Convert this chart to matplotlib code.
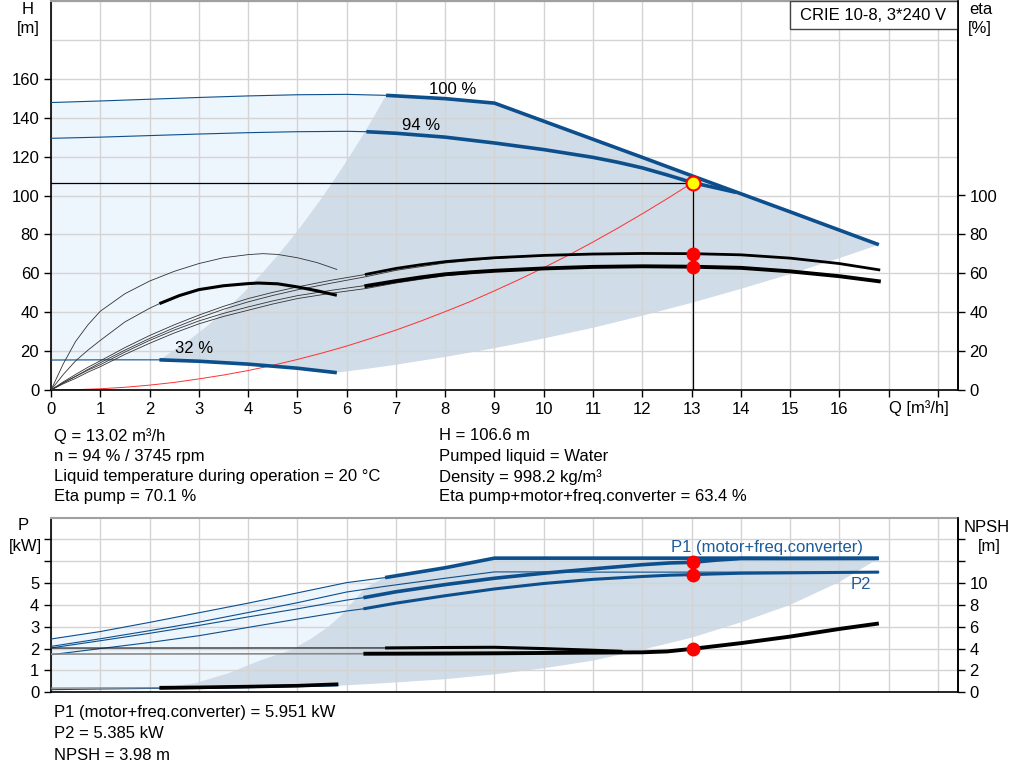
import numpy as np
import matplotlib
matplotlib.use("Agg")
import matplotlib.pyplot as plt
from matplotlib.patches import Rectangle

plt.rcParams['font.family'] = ['Liberation Sans', 'DejaVu Sans']

# ---- head curves (Q in m3/h, H in m) ----
q100 = np.array([0, 1, 2, 3, 4, 5, 6, 6.8, 8, 9, 10, 11, 12, 13, 14, 15, 16, 16.8])
h100 = np.array([147.8, 148.6, 149.5, 150.4, 151.2, 151.8, 152, 151.5, 149.8, 147.5,
                 138.2, 128.9, 119.6, 110.2, 100.9, 91.6, 82.2, 74.7])
q94 = np.array([0, 1, 2, 3, 4, 5, 6, 6.4, 7, 8, 9, 10, 11, 11.5, 12, 12.5, 13.02, 13.5, 13.9])
h94 = np.array([129.4, 130, 130.8, 131.6, 132.3, 132.8, 133, 132.8, 132, 130, 127,
                123.6, 119.6, 117.1, 114.2, 110.6, 106.6, 103.9, 101.6])
q32 = np.array([0, 1, 2.2, 3, 4, 5, 5.8])
h32 = np.array([15.4, 15.5, 15.5, 14.8, 13.3, 11.2, 8.9])

# operating range boundaries
left_q = np.array([2.2, 2.5, 2.8, 3.2, 3.6, 4.0, 4.3, 4.6, 4.8, 5.05, 5.3, 5.5, 5.73,
                   5.9, 6.07, 6.3, 6.54, 6.8])
left_h = np.array([15.5, 20.4, 25.6, 33.5, 42.4, 52.3, 60.5, 69.2, 75.3, 83.4, 91.9,
                   98.9, 107.4, 113.8, 120.5, 129.8, 139.9, 151.5])
low_q = np.array([5.8, 6.5, 7, 8, 9, 10, 11, 12, 13, 14, 15, 16, 16.8])
low_h = np.array([8.9, 11.2, 13, 17, 21.5, 26.5, 32, 38.2, 44.8, 52, 59.6, 67.8, 74.7])

# system curve
sys_q = np.array([0, 0.5, 1, 1.5, 2, 2.5, 3, 3.5, 4, 4.5, 5, 5.5, 6, 6.5, 7, 7.5, 8,
                  8.5, 9, 9.5, 10, 10.5, 11, 11.5, 12, 12.5, 13.02])
sys_h = np.array([0, 0.16, 0.63, 1.4, 2.5, 3.9, 5.7, 7.7, 10, 12.7, 15.7, 19, 22.6,
                  26.6, 30.8, 35.4, 40.3, 45.4, 51, 56.8, 62.9, 69.3, 76.1, 83.2, 90.6,
                  98.3, 106.6])

# ---- efficiency curves (%) ----
qb = np.array([0, 0.25, 0.5, 0.75, 1, 1.5, 2, 2.5, 3, 3.5, 4, 4.5, 5, 5.7, 6.4])
eta_p94_lo = np.array([0, 4.2, 8, 11.7, 15, 21.8, 28, 33.5, 38.5, 43, 47, 50.2, 53, 56.5, 59.5])
eta_p100_lo = np.array([0, 3.7, 7, 10.6, 14, 20.5, 26.5, 32, 37, 41.5, 45.3, 48.6, 51.5, 55, 58.3])
eta_t94_lo = np.array([0, 3.7, 7, 10.2, 13, 19.5, 25.5, 30.8, 35.5, 39.4, 42.7, 45.8, 48.5, 51.3, 53.8])
eta_t100_lo = np.array([0, 3.2, 6, 9.2, 12, 18.3, 24, 29.3, 34, 37.8, 41, 44.2, 47, 49.8, 52.2])
qc = np.array([6.4, 7, 8, 9, 10])
eta_p100_c = np.array([58.3, 61.5, 65.3, 67.6, 69.1])
eta_t100_c = np.array([52.2, 55, 58.8, 60.9, 62.3])
qe = np.array([6.4, 7, 7.5, 8, 8.5, 9, 10, 11, 12, 13, 14, 15, 16, 16.8])
eta_pump = np.array([59.5, 62.5, 64.4, 66, 67.1, 68, 69.2, 69.9, 70.2, 70.1, 69.5, 67.8, 65, 61.8])
eta_total = np.array([53.5, 56, 57.9, 59.5, 60.5, 61.3, 62.5, 63.3, 63.6, 63.4, 62.8, 61,
                      58.5, 55.9])
qe32 = np.array([0, 0.25, 0.5, 0.75, 1, 1.5, 2, 2.5, 3, 3.5, 4, 4.3, 4.6, 5, 5.4, 5.8])
eta_p32 = np.array([0, 13.5, 25, 33.5, 40.5, 49.5, 56, 61, 65, 68, 69.6, 70.1, 69.7, 68,
                    65.5, 62])
qt32 = np.array([0, 0.25, 0.5, 0.75, 1, 1.5, 2, 2.2, 2.6, 3, 3.5, 4, 4.2, 4.6, 5, 5.4, 5.8])
eta_t32 = np.array([0, 8, 15, 20.5, 25.5, 35, 42, 44.4, 48.5, 51.6, 53.6, 54.7, 55, 54.6,
                    53, 51, 48.7])

# ---- power curves (kW) ----
qp = np.array([0, 1, 2, 3, 4, 5, 6, 6.78, 8, 9, 10, 11, 12, 13, 14, 15, 16, 16.8])
p1_100 = np.array([2.44, 2.78, 3.2, 3.64, 4.08, 4.55, 5.02, 5.25, 5.7, 6.14, 6.14, 6.14,
                   6.14, 6.14, 6.14, 6.13, 6.13, 6.13])
p2_100 = np.array([2.1, 2.45, 2.82, 3.21, 3.65, 4.1, 4.59, 4.85, 5.22, 5.51, 5.51, 5.5,
                   5.5, 5.5, 5.5, 5.5, 5.5, 5.5])
q94p = np.array([0, 1, 2, 3, 4, 5, 6, 6.34, 7, 8, 9, 10, 11, 12, 12.56, 13.02, 13.5, 14, 16.8])
p1_94 = np.array([2.03, 2.36, 2.7, 3.06, 3.45, 3.82, 4.22, 4.33, 4.6, 4.93, 5.22, 5.45,
                  5.65, 5.84, 5.92, 5.95, 6.05, 6.12, 6.13])
p2_94 = np.array([1.72, 2.0, 2.28, 2.59, 2.97, 3.35, 3.72, 3.82, 4.08, 4.42, 4.73, 4.98,
                  5.17, 5.3, 5.36, 5.385, 5.42, 5.45, 5.5])
qp32 = np.array([0, 1, 2.2, 3, 4, 5, 5.83])
p1_32 = np.array([0.12, 0.15, 0.18, 0.21, 0.25, 0.3, 0.33])
pl_q = np.array([2.2, 2.92, 3.6, 4.27, 4.88, 5.29, 5.63, 5.9, 6.1, 6.37, 6.6, 6.78])
pl_p = np.array([0.2, 0.41, 0.87, 1.48, 1.94, 2.47, 3.0, 3.54, 4.07, 4.75, 5.05, 5.25])
pb_q = np.array([5.83, 7, 8, 9, 10, 11, 12, 13, 14, 15, 16, 16.8])
pb_p = np.array([0.3, 0.45, 0.6, 0.82, 1.1, 1.45, 1.95, 2.5, 3.2, 4.0, 5.05, 6.13])

# ---- NPSH curves (m) ----
qn100 = np.array([0, 6.78, 8, 9, 10, 11, 11.6])
npsh100 = np.array([4.05, 4.06, 4.1, 4.12, 4.0, 3.85, 3.75])
qn94 = np.array([0, 6.34, 8, 9, 10, 11, 12, 12.5, 13.02, 14, 15, 16, 16.8])
npsh94 = np.array([3.5, 3.53, 3.55, 3.57, 3.6, 3.63, 3.66, 3.74, 3.98, 4.5, 5.1, 5.8, 6.3])
qn32 = np.array([0, 2.2, 3, 4, 5, 5.83])
npsh32 = np.array([0.38, 0.42, 0.45, 0.52, 0.6, 0.74])

# duty point
q_duty = 13.02
h_duty = 106.6
eta_duty = [70.1, 63.4]
p_duty = [5.951, 5.385]
npsh_duty = 3.98

BLUE = '#0c4f8c'
LIGHT = '#edf5fd'
GREY = '#d0dce7'
THIN, THICK = 0.8, 2.6
FS = 12


def ftext(x, y, s, **kw):
    fig.text(x / 1024, 1 - y / 781, s, fontsize=FS, **kw)


def split_plot(a, q, v, qs, color, thin=THIN, thick=THICK, thin_color=None):
    m1 = q <= qs
    m2 = q >= qs
    a.plot(q[m1], v[m1], color=thin_color or color, lw=thin, zorder=3)
    a.plot(q[m2], v[m2], color=color, lw=thick, zorder=3, solid_capstyle='butt')


fig = plt.figure(figsize=(10.24, 7.81), dpi=100)
ax = fig.add_axes([51 / 1024, 1 - 390 / 781, 906.7 / 1024, 389 / 781])
axb = fig.add_axes([51 / 1024, 1 - 692.3 / 781, 906.7 / 1024, 174.8 / 781])

for a in (ax, axb):
    a.set_xlim(0, 18.4)
    a.set_xticks(range(19))
    a.grid(True, which='both', color='#d4d4d4', lw=1.0)
    a.set_axisbelow(True)
    for s in ('left', 'bottom', 'right'):
        a.spines[s].set_color('black')
        a.spines[s].set_linewidth(1.2)
    a.spines['top'].set_color('#a0a0a0')
    a.spines['top'].set_linewidth(1.5)
    a.tick_params(labelsize=FS, length=5, width=1)
    a.tick_params(which='minor', length=0)

# ---------- top chart ----------
ax.set_ylim(0, 200)
ax.set_yticks(range(0, 161, 20))
ax.set_yticks([180, 200], minor=True)
ax.set_xticklabels([str(v) if v <= 16 else '' for v in range(19)])

light_q = np.concatenate([q100[q100 <= 6.8], q32[::-1]])
light_h = np.concatenate([h100[q100 <= 6.8], h32[::-1]])
ax.fill(light_q, light_h, color=LIGHT, lw=0, zorder=0.2)
m = q100 >= 6.8
grey_q = np.concatenate([left_q, q100[m], low_q[::-1], q32[q32 >= 2.2][::-1]])
grey_h = np.concatenate([left_h, h100[m], low_h[::-1], h32[q32 >= 2.2][::-1]])
ax.fill(grey_q, grey_h, color=GREY, lw=0, zorder=0.2)

split_plot(ax, q100, h100, 6.8, BLUE)
split_plot(ax, q94, h94, 6.4, BLUE)
split_plot(ax, q32, h32, 2.2, BLUE)
ax.plot(sys_q, sys_h, color='#ff3030', lw=0.7, zorder=2.5)
ax.plot([0, q_duty], [h_duty, h_duty], color='black', lw=0.9, zorder=2.6)
ax.plot([q_duty, q_duty], [0, h_duty], color='black', lw=0.9, zorder=2.6)
ax.plot(q_duty, h_duty, 'o', ms=10, mfc='#ffff00', mec='#ff0000', mew=1.5, zorder=6)

ax.text(8.16, 154.5, '100 %', fontsize=FS, ha='center', va='center')
ax.text(7.5, 136, '94 %', fontsize=FS, ha='center', va='center')
ax.text(2.9, 21.5, '32 %', fontsize=FS, ha='center', va='center')

ax.add_patch(Rectangle((0.815, 0.928), 0.185, 0.072, transform=ax.transAxes,
                       facecolor='white', edgecolor='#444444', lw=1.0, zorder=7))
ax.text(0.907, 0.964, 'CRIE 10-8, 3*240 V', transform=ax.transAxes, fontsize=FS,
        ha='center', va='center', zorder=8)

axe = ax.twinx()
axe.set_ylim(0, 200)
axe.set_yticks(range(0, 101, 20))
axe.tick_params(labelsize=FS, length=5, width=1)
for s in axe.spines.values():
    s.set_visible(False)
axe.spines['right'].set_visible(True)
axe.spines['right'].set_linewidth(1.2)
for v in (eta_p100_lo, eta_p94_lo, eta_t100_lo, eta_t94_lo):
    axe.plot(qb, v, color='#333333', lw=0.6)
axe.plot(qc, eta_p100_c, color='#333333', lw=0.6)
axe.plot(qc, eta_t100_c, color='#333333', lw=0.6)
axe.plot(qe, eta_pump, color='black', lw=2.0)
axe.plot(qe, eta_total, color='black', lw=2.8)
axe.plot(qe32, eta_p32, color='#333333', lw=0.6)
split_plot(axe, qt32, eta_t32, 2.2, 'black', thin=0.6, thick=2.2, thin_color='#333333')
axe.plot([q_duty, q_duty], eta_duty, 'o', ms=9, color='#ff0000', zorder=6)

ftext(28, 9, 'H', ha='center', va='center')
ftext(28, 28, '[m]', ha='center', va='center')
ftext(981, 10, 'eta', ha='center', va='center')
ftext(980, 29, '[%]', ha='center', va='center')
ftext(919, 408, 'Q [m³/h]', ha='center', va='center')

left_lines = ['Q = 13.02 m³/h', 'n = 94 % / 3745 rpm',
              'Liquid temperature during operation = 20 °C', 'Eta pump = 70.1 %']
right_lines = ['H = 106.6 m', 'Pumped liquid = Water', 'Density = 998.2 kg/m³',
               'Eta pump+motor+freq.converter = 63.4 %']
for i, (l, r) in enumerate(zip(left_lines, right_lines)):
    y = 436 + i * 20.3
    ftext(54, y, l, va='center')
    ftext(439, y, r, va='center')

# ---------- bottom chart ----------
axb.set_ylim(0, 8)
axb.set_yticks(range(0, 8))
axb.set_yticklabels([str(v) if v <= 5 else '' for v in range(8)])
axb.tick_params(axis='x', length=0, labelbottom=False)

m = qp <= 6.78
light_q = np.concatenate([qp[m], qp32[::-1]])
light_p = np.concatenate([p1_100[m], p1_32[::-1]])
axb.fill(light_q, light_p, color=LIGHT, lw=0, zorder=0.2)
m = qp >= 6.78
grey_q = np.concatenate([pl_q, qp[m], pb_q[::-1], qp32[qp32 >= 2.2][::-1]])
grey_p = np.concatenate([pl_p, p1_100[m], pb_p[::-1], p1_32[qp32 >= 2.2][::-1]])
axb.fill(grey_q, grey_p, color=GREY, lw=0, zorder=0.2)

split_plot(axb, qp, p1_100, 6.78, BLUE)
axb.plot(qp, p2_100, color=BLUE, lw=THIN, zorder=3)
split_plot(axb, q94p, p1_94, 6.34, BLUE)
split_plot(axb, q94p, p2_94, 6.34, BLUE, thick=2.2)
split_plot(axb, qp32, p1_32, 2.2, BLUE, thick=2.0)
axb.plot([q_duty, q_duty], p_duty, 'o', ms=9, color='#ff0000', zorder=6)

axb.text(14.52, 6.63, 'P1 (motor+freq.converter)', fontsize=FS, color='#1d5c99',
         ha='center', va='center', zorder=5)
axb.text(16.43, 4.95, 'P2', fontsize=FS, color='#1d5c99', ha='center', va='center')

axn = axb.twinx()
axn.set_ylim(0, 16)
axn.set_yticks(range(0, 15, 2))
axn.set_yticklabels([str(v) if v <= 10 else '' for v in range(0, 15, 2)])
axn.tick_params(labelsize=FS, length=5, width=1)
for s in axn.spines.values():
    s.set_visible(False)
axn.spines['right'].set_visible(True)
axn.spines['right'].set_linewidth(1.2)
split_plot(axn, qn100, npsh100, 6.78, 'black', thin=0.9, thick=2.2, thin_color='#222222')
split_plot(axn, qn94, npsh94, 6.34, 'black', thin=1.2, thick=2.8, thin_color='#8a8a8a')
split_plot(axn, qn32, npsh32, 2.2, 'black', thin=1.0, thick=2.6, thin_color='#8a8a8a')
axn.plot(q_duty, npsh_duty, 'o', ms=9, color='#ff0000', zorder=6)

ftext(23, 526, 'P', ha='center', va='center')
ftext(25, 546, '[kW]', ha='center', va='center')
ftext(987, 527, 'NPSH', ha='center', va='center')
ftext(989, 547, '[m]', ha='center', va='center')

ftext(54, 713, 'P1 (motor+freq.converter) = 5.951 kW', va='center')
ftext(54, 734, 'P2 = 5.385 kW', va='center')
ftext(54, 755, 'NPSH = 3.98 m', va='center')

fig.savefig('out.png', dpi=100)
